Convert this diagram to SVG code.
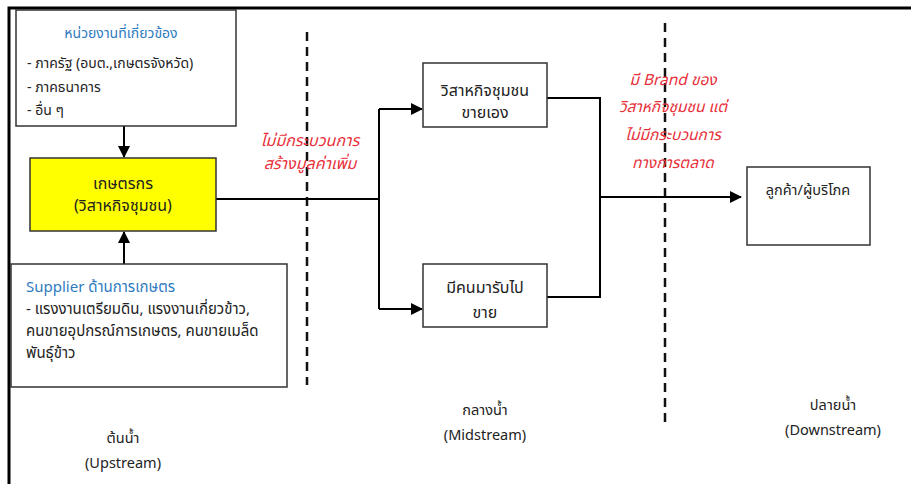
<svg xmlns="http://www.w3.org/2000/svg" width="911" height="484" viewBox="0 0 911 484">
<defs>
<marker id="ah" markerWidth="12" markerHeight="12" refX="11" refY="6" orient="auto" markerUnits="userSpaceOnUse">
<path d="M0,0 L12,6 L0,12 Z" fill="#000"/>
</marker>
<style>
text{font-family:"Noto Sans Thai","Tahoma","Noto Sans","DejaVu Sans",sans-serif;font-size:14px;fill:#222}
.c{text-anchor:middle}
.blue{fill:#2e7bbf}
.red{fill:#e8303a;font-style:italic;font-size:16px}
.red2{fill:#e8303a;font-style:italic;font-size:15.5px}
.node{font-size:16px}
.sup{font-size:15px}
.stage{font-size:14.5px}
.box{fill:#fff;stroke:#333;stroke-width:1.5}
.ln{fill:none;stroke:#000;stroke-width:2}
.dash{fill:none;stroke:#111;stroke-width:2.5;stroke-dasharray:9,6}
</style>
</defs>
<rect width="911" height="484" fill="#fff"/>
<path d="M911,8 H9 V484" fill="none" stroke="#000" stroke-width="3"/>
<g id="dividers">
<line class="dash" x1="307" y1="32" x2="307" y2="385"/>
<line class="dash" x1="665" y1="23" x2="665" y2="428"/>
</g>
<g id="connectors">
<path class="ln" d="M124,126 V157" marker-end="url(#ah)"/>
<path class="ln" d="M124,264 V232" marker-end="url(#ah)"/>
<path class="ln" d="M216,199 H379 M379,109 V309"/>
<path class="ln" d="M379,109 H422" marker-end="url(#ah)"/>
<path class="ln" d="M379,309 H422" marker-end="url(#ah)"/>
<path class="ln" d="M547,98 H600 V297 H547 M600,197 H741" marker-end="url(#ah)"/>
</g>
<g id="agencies">
<rect class="box" x="16" y="10" width="220" height="116"/>
<text class="c blue" x="121" y="38">หน่วยงานที่เกี่ยวข้อง</text>
<text x="27" y="68">- ภาครัฐ (อบต.,เกษตรจังหวัด)</text>
<text x="27" y="92">- ภาคธนาคาร</text>
<text x="27" y="115">- อื่น ๆ</text>
</g>
<g id="farmer">
<rect x="30" y="158" width="186" height="73" fill="#ffff00" stroke="#333" stroke-width="1.5"/>
<text class="c node" x="123" y="189">เกษตรกร</text>
<text class="c node" x="123" y="211">(วิสาหกิจชุมชน)</text>
</g>
<g id="supplier">
<rect class="box" x="11" y="264" width="276" height="123"/>
<text class="sup" x="26" y="292"><tspan class="blue">Supplier ด้านการเกษตร</tspan></text>
<text class="sup" x="26" y="314">- แรงงานเตรียมดิน, แรงงานเกี่ยวข้าว,</text>
<text class="sup" x="26" y="336">คนขายอุปกรณ์การเกษตร, คนขายเมล็ด</text>
<text class="sup" x="26" y="358">พันธุ์ข้าว</text>
</g>
<g id="label-novalue">
<text class="c red" x="310" y="146">ไม่มีกระบวนการ</text>
<text class="c red" x="310" y="169">สร้างมูลค่าเพิ่ม</text>
</g>
<g id="self-sell">
<rect class="box" x="423" y="63" width="124" height="64"/>
<text class="c node" x="485" y="96">วิสาหกิจชุมชน</text>
<text class="c node" x="485" y="118">ขายเอง</text>
</g>
<g id="middleman">
<rect class="box" x="423" y="264" width="124" height="63"/>
<text class="c node" x="485" y="293">มีคนมารับไป</text>
<text class="c node" x="485" y="318">ขาย</text>
</g>
<g id="label-brand">
<text class="c red2" x="673" y="85">มี Brand ของ</text>
<text class="c red2" x="673" y="112">วิสาหกิจชุมชน แต่</text>
<text class="c red2" x="673" y="140">ไม่มีกระบวนการ</text>
<text class="c red2" x="673" y="168">ทางการตลาด</text>
</g>
<g id="customer">
<rect class="box" x="747" y="167" width="123" height="78"/>
<text class="c stage" x="808" y="195">ลูกค้า/ผู้บริโภค</text>
</g>
<g id="stage-labels">
<text class="c stage" x="123" y="443">ต้นน้ำ</text>
<text class="c stage" x="123" y="468">(Upstream)</text>
<text class="c stage" x="485" y="415">กลางน้ำ</text>
<text class="c stage" x="485" y="440">(Midstream)</text>
<text class="c stage" x="833" y="410">ปลายน้ำ</text>
<text class="c stage" x="833" y="435">(Downstream)</text>
</g>
</svg>
